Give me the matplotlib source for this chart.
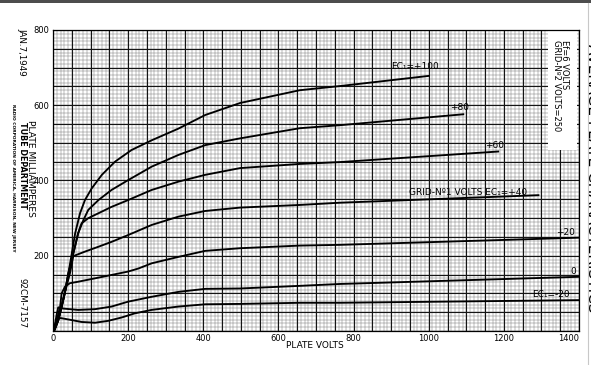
import matplotlib
matplotlib.use("Agg")
import matplotlib.pyplot as plt
import numpy as np
from matplotlib.patches import Rectangle

# ---- data (plate volts, plate milliamperes) ----
ec_p100_v = [0, 4, 14, 23, 32, 41, 50, 59, 72, 85, 103, 130, 165, 209, 263, 334, 405, 498, 657, 764, 1000]
ec_p100_i = [0, 3, 29, 65, 104, 153, 206, 260, 313, 348, 379, 415, 450, 481, 507, 538, 574, 606, 640, 651, 678]

ec_p80_v = [0, 4, 14, 23, 32, 41, 54, 67, 81, 94, 121, 156, 200, 263, 334, 405, 498, 657, 764, 1092]
ec_p80_i = [0, 3, 29, 65, 104, 153, 206, 260, 295, 322, 348, 375, 401, 437, 468, 494, 512, 539, 547, 576]

ec_p60_v = [0, 4, 14, 23, 32, 41, 54, 67, 76, 94, 121, 156, 200, 263, 334, 405, 498, 657, 764, 1185]
ec_p60_i = [0, 3, 29, 65, 104, 153, 206, 260, 286, 300, 313, 330, 348, 375, 397, 415, 433, 444, 449, 477]

ec_p40_v = [0, 4, 14, 23, 32, 45, 54, 85, 121, 156, 200, 263, 334, 405, 498, 657, 764, 1292]
ec_p40_i = [0, 3, 29, 65, 104, 153, 199, 211, 224, 237, 255, 282, 304, 319, 328, 335, 341, 361]

ec_p20_v = [0, 4, 10, 19, 23, 32, 45, 67, 112, 156, 200, 227, 263, 334, 405, 498, 657, 764, 1398]
ec_p20_i = [0, 3, 29, 65, 100, 118, 127, 131, 140, 149, 158, 166, 180, 197, 213, 220, 227, 229, 248]

ec_0_v = [0, 4, 10, 14, 23, 67, 112, 156, 200, 263, 334, 405, 498, 657, 764, 1398]
ec_0_i = [0, 10, 45, 63, 60, 56, 58, 65, 78, 91, 104, 112, 113, 120, 125, 144]

ec_m20_v = [0, 5, 10, 14, 23, 50, 76, 112, 147, 183, 218, 262, 334, 405, 498, 657, 764, 1398]
ec_m20_i = [0, 15, 30, 35, 34, 29, 24, 22, 27, 36, 47, 56, 65, 71, 72, 75, 75, 82]

curves = [
    (ec_p100_v, ec_p100_i), (ec_p80_v, ec_p80_i), (ec_p60_v, ec_p60_i),
    (ec_p40_v, ec_p40_i), (ec_p20_v, ec_p20_i), (ec_0_v, ec_0_i),
    (ec_m20_v, ec_m20_i),
]

x_ticks = [0, 200, 400, 600, 800, 1000, 1200, 1400]
y_ticks = [200, 400, 600, 800]

curve_labels = [
    ("EC\u2081=+100", 963, 702),
    ("+80", 1083, 593),
    ("+60", 1174, 492),
    ("GRID-N\u00ba1 VOLTS EC\u2081=+40", 1105, 367),
    ("+20", 1363, 263),
    ("0", 1384, 159),
    ("EC\u2081=-20", 1326, 98),
]

# ---- figure ----
W, H = 591, 365
fig = plt.figure(figsize=(W / 100, H / 100), dpi=100)
fig.patch.set_facecolor("white")
ax = fig.add_axes([53 / W, (H - 331) / H, (579 - 53) / W, (331 - 30) / H])
ax.set_xlim(0, 1400)
ax.set_ylim(0, 800)

# graph paper
ax.vlines(np.arange(0, 1401, 10), 0, 800, colors="#7a7a7a", lw=0.35, zorder=1)
ax.hlines(np.arange(0, 801, 10), 0, 1400, colors="#7a7a7a", lw=0.35, zorder=1)
ax.vlines(np.arange(0, 1401, 50), 0, 800, colors="#151515", lw=0.8, zorder=1.1)
ax.hlines(np.arange(0, 801, 50), 0, 1400, colors="#151515", lw=0.8, zorder=1.1)

# white note box on the paper
ax.add_patch(Rectangle((548 / W, (H - 150) / H), 29 / W, 120 / H,
                       transform=fig.transFigure, facecolor="white",
                       edgecolor="none", zorder=2, clip_on=False))

for v, i in curves:
    ax.plot(v, i, color="black", lw=1.35, zorder=3, solid_joinstyle="round")

for txt, xv, yv in curve_labels:
    ax.text(xv, yv, txt, fontsize=6.5, ha="center", va="center", zorder=4)

ax.set_xticks(x_ticks)
ax.set_xticklabels([str(t) for t in x_ticks], fontsize=6)
ax.set_yticks(y_ticks)
ax.set_yticklabels([str(t) for t in y_ticks], fontsize=6)
ax.tick_params(length=0, pad=2.5)
ax.get_xticklabels()[-1].set_ha("right")
for s in ax.spines.values():
    s.set_linewidth(0.9)

# texts
fig.text(315 / W, 1 - 345 / H, "PLATE VOLTS", fontsize=6.5, ha="center", va="center")
fig.text(22 / W, 1 - 52 / H, "JAN.7,1949", fontsize=6.3, rotation=-90, ha="center", va="center")
fig.text(30 / W, 1 - 168 / H, "PLATE MILLIAMPERES", fontsize=6.6, rotation=-90, ha="center", va="center")
fig.text(22 / W, 1 - 165 / H, "TUBE DEPARTMENT", fontsize=5.8, rotation=-90, ha="center", va="center", fontweight="bold")
fig.text(13 / W, 1 - 178 / H, "RADIO CORPORATION OF AMERICA, HARRISON, NEW JERSEY", fontsize=3.2,
         rotation=-90, ha="center", va="center", fontweight="bold")
fig.text(22 / W, 1 - 303 / H, "92CM-7157", fontsize=6.3, rotation=-90, ha="center", va="center")

fig.text(564 / W, 1 - 40 / H, "Ef=6 VOLTS", fontsize=6, rotation=-90, ha="center", va="top", zorder=5)
fig.text(556 / W, 1 - 40 / H, "GRID-N\u00ba2 VOLTS=250", fontsize=6, rotation=-90, ha="center", va="top", zorder=5)

fig.text(593 / W, 1 - 178 / H, "AVERAGE PLATE CHARACTERISTICS", fontsize=11, rotation=-90,
         ha="center", va="center")

# scan edges
fig.patches.append(Rectangle((0, 1 - 3 / H), 1, 3 / H, transform=fig.transFigure,
                             facecolor="#4d4d4d", edgecolor="none"))
fig.lines.append(plt.Line2D([588 / W, 588 / W], [0, 1 - 3 / H], transform=fig.transFigure,
                            color="#c8c8c8", lw=0.8))

fig.savefig("out.png", dpi=100)
